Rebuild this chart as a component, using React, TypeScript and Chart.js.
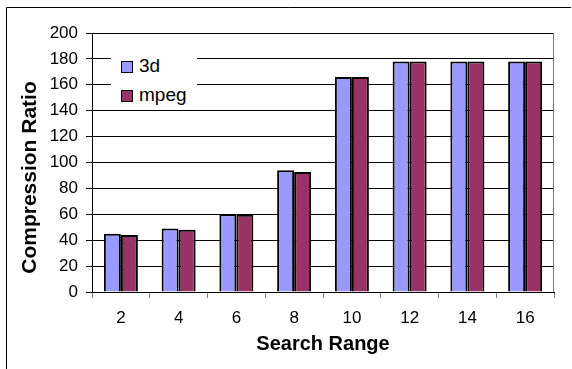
import React, { useEffect, useRef } from 'react';
import { Chart, registerables } from 'chart.js';

Chart.register(...registerables);

const categories = ['2', '4', '6', '8', '10', '12', '14', '16'];
const series3d = [45, 49, 60, 94, 166, 178, 178, 178];
const seriesMpeg = [44, 48, 59.6, 92.7, 166, 178, 178, 178];
const seriesNames = ['3d', 'mpeg'];
const seriesColors = ['#9999FF', '#993366'];
const xTitle = 'Search Range';
const yTitle = 'Compression Ratio';
const yMin = 0;
const yMax = 200;
const yStep = 20;

const FONT = '"Liberation Sans", Arial, Helvetica, sans-serif';
const W = 572;
const H = 369;

const framePlugin = {
  id: 'frame',
  beforeDraw(chart: any) {
    const ctx = chart.ctx;
    ctx.save();
    ctx.fillStyle = '#fff';
    ctx.fillRect(0, 0, W, H);
    ctx.strokeStyle = '#000';
    ctx.lineWidth = 1;
    ctx.beginPath();
    ctx.moveTo(6.5, H + 2);
    ctx.lineTo(6.5, 7.5);
    ctx.lineTo(571, 7.5);
    ctx.stroke();
    ctx.restore();
  },
  afterDraw(chart: any) {
    const ctx = chart.ctx;
    const a = chart.chartArea;
    ctx.save();
    ctx.strokeStyle = '#808080';
    ctx.lineWidth = 1;
    ctx.beginPath();
    ctx.moveTo(Math.round(a.right) - 0.5, a.top);
    ctx.lineTo(Math.round(a.right) - 0.5, a.bottom);
    ctx.stroke();
    // y axis title
    ctx.translate(36, 177.5);
    ctx.rotate(-Math.PI / 2);
    ctx.font = `bold 21px ${FONT}`;
    ctx.fillStyle = '#000';
    ctx.textAlign = 'center';
    ctx.textBaseline = 'alphabetic';
    ctx.fillText(yTitle, 0, 0);
    ctx.restore();
  },
};

export default function App() {
  const ref = useRef<HTMLCanvasElement | null>(null);

  useEffect(() => {
    if (!ref.current) return;
    const chart = new Chart(ref.current, {
      type: 'bar',
      data: {
        labels: categories,
        datasets: [
          {
            label: seriesNames[0],
            data: series3d,
            backgroundColor: seriesColors[0],
            borderColor: '#000',
            borderWidth: 2,
          },
          {
            label: seriesNames[1],
            data: seriesMpeg,
            backgroundColor: seriesColors[1],
            borderColor: '#000',
            borderWidth: 2,
          },
        ],
      },
      options: {
        responsive: false,
        animation: false,
        devicePixelRatio: 1,
        layout: { padding: { left: 0, top: 33, right: 18, bottom: 0 } },
        datasets: { bar: { barPercentage: 1, categoryPercentage: 0.589 } },
        plugins: {
          legend: { display: false },
          tooltip: { enabled: false },
        },
        scales: {
          x: {
            grid: { offset: true, drawOnChartArea: false, tickLength: 6, color: '#808080' },
            border: { color: '#000', width: 1 },
            ticks: {
              padding: 10,
              color: '#000',
              font: { family: FONT, size: 17 },
              maxRotation: 0,
              autoSkip: false,
            },
            title: {
              display: true,
              text: xTitle,
              color: '#000',
              font: { family: FONT, size: 20, weight: 'bold' },
              padding: { top: 0, bottom: 13 },
            },
            afterFit: (s: any) => {
              s.height = H - 292;
            },
          },
          y: {
            min: yMin,
            max: yMax,
            ticks: {
              stepSize: yStep,
              padding: 8,
              color: '#000',
              font: { family: FONT, size: 17 },
            },
            grid: { color: '#000', tickLength: 6 },
            border: { color: '#000', width: 1 },
            afterFit: (s: any) => {
              s.width = 92;
            },
          },
        },
      },
      plugins: [framePlugin],
    } as any);
    return () => chart.destroy();
  }, []);

  const legendItem = (i: number, top: number) => (
    <div key={i} style={{ position: 'absolute', left: 0, top, height: 20 }}>
      <div
        style={{
          position: 'absolute',
          left: 10,
          top: 4,
          width: 10,
          height: 10,
          background: seriesColors[i],
          border: '1.5px solid #000',
        }}
      />
      <span
        style={{
          position: 'absolute',
          left: 28,
          top: 0,
          fontFamily: FONT,
          fontSize: 19,
          lineHeight: '18px',
          color: '#000',
          whiteSpace: 'nowrap',
        }}
      >
        {seriesNames[i]}
      </span>
    </div>
  );

  return (
    <div style={{ position: 'fixed', left: 0, top: 0, width: W, height: H, background: '#fff' }}>
      <canvas ref={ref} width={W} height={H} style={{ display: 'block', width: W, height: H }} />
      <div
        style={{
          position: 'absolute',
          left: 111,
          top: 50,
          width: 86,
          height: 57,
          background: '#fff',
        }}
      >
        {legendItem(0, 7)}
        {legendItem(1, 36)}
      </div>
    </div>
  );
}
